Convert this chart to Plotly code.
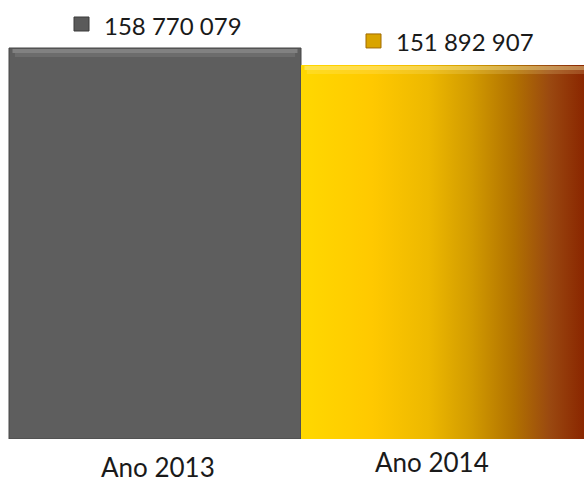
import plotly.graph_objects as go

categories = ["Ano 2013", "Ano 2014"]
values = [158770079, 151892907]
value_labels = ["158 770 079", "151 892 907"]
positions = [0, 1]

gray = "#5e5e5e"
gold_scale = [
    [0.0, "#FFD800"],
    [0.25, "#FFC900"],
    [0.45, "#EDB800"],
    [0.6, "#D29B00"],
    [0.75, "#B27200"],
    [0.88, "#9A4810"],
    [1.0, "#8A2600"],
]

fig = go.Figure()

fig.add_trace(go.Bar(
    x=[positions[0]], y=[values[0]], width=1,
    marker=dict(color=gray, line=dict(color="#474747", width=1)),
    hoverinfo="skip", showlegend=False,
))
fig.add_trace(go.Bar(
    x=[positions[1]], y=[values[1]], width=1,
    marker=dict(color="#D8A000", line=dict(width=0)),
    hoverinfo="skip", showlegend=False,
))
# gradient overlay for the second bar
c = positions[1]
fig.add_trace(go.Scatter(
    x=[c - 0.5, c + 0.5, c + 0.5, c - 0.5, c - 0.5],
    y=[0, 0, values[1], values[1], 0],
    mode="lines", line=dict(width=0), fill="toself",
    fillgradient=dict(type="horizontal", colorscale=gold_scale, start=c - 0.5, stop=c + 0.47),
    hoverinfo="skip", showlegend=False,
))

# bevel highlights along the top edges (two soft bands)
bevel = [
    ("rgba(255,255,255,0.22)", "rgba(255,255,255,0.09)"),
    ("rgba(255,245,170,0.45)", "rgba(255,245,170,0.18)"),
]
for p, v, (b1, b2) in zip(positions, values, bevel):
    fig.add_shape(type="rect", xref="x", yref="y", x0=p - 0.5 + 0.012, x1=p + 0.5 - 0.012,
                  ysizemode="pixel", yanchor=v, y0=-5, y1=-1,
                  line=dict(width=0), fillcolor=b1, layer="above")
    fig.add_shape(type="rect", xref="x", yref="y", x0=p - 0.5 + 0.02, x1=p + 0.5 - 0.02,
                  ysizemode="pixel", yanchor=v, y0=-9, y1=-5,
                  line=dict(width=0), fillcolor=b2, layer="above")

square_colors = ["#5a5a5a", "#D9A400"]
for p, v, lab, sc in zip(positions, values, value_labels, square_colors):
    fig.add_shape(type="rect", xref="x", yref="y",
                  xsizemode="pixel", xanchor=p, x0=-81, x1=-66,
                  ysizemode="pixel", yanchor=v, y0=17, y1=31,
                  fillcolor=sc, line=dict(color="#3a3a3a" if p == 0 else "#a06a00", width=1))
    fig.add_annotation(x=p, y=v, xref="x", yref="y", text=lab, showarrow=False,
                       xanchor="left", yanchor="middle", xshift=-53, yshift=23,
                       font=dict(family="Lato", size=24, color="#1a1a1a"))

label_shift = [(3, -28), (-15, -23)]
for p, cat, (xs, ys) in zip(positions, categories, label_shift):
    fig.add_annotation(x=p, y=0, xref="x", yref="paper", text=cat, showarrow=False,
                       xanchor="center", yanchor="middle", xshift=xs, yshift=ys,
                       font=dict(family="Lato", size=26, color="#1a1a1a"))

fig_w, fig_h = 584, 479
plot_bottom = 439
px_per_unit = 292
left = -0.5 - 9 / px_per_unit
ymax = values[0] * plot_bottom / 391

fig.update_layout(
    width=fig_w, height=fig_h,
    margin=dict(l=0, r=0, t=0, b=fig_h - plot_bottom),
    paper_bgcolor="white", plot_bgcolor="white",
    barmode="overlay", bargap=0,
    xaxis=dict(range=[left, left + fig_w / px_per_unit], visible=False, fixedrange=True),
    yaxis=dict(range=[0, ymax], visible=False, fixedrange=True),
    showlegend=False,
)

fig.write_html(
    "out.html",
    config={"displayModeBar": False, "staticPlot": True},
    post_script="document.body.style.margin='0';document.body.style.overflow='hidden';",
)
